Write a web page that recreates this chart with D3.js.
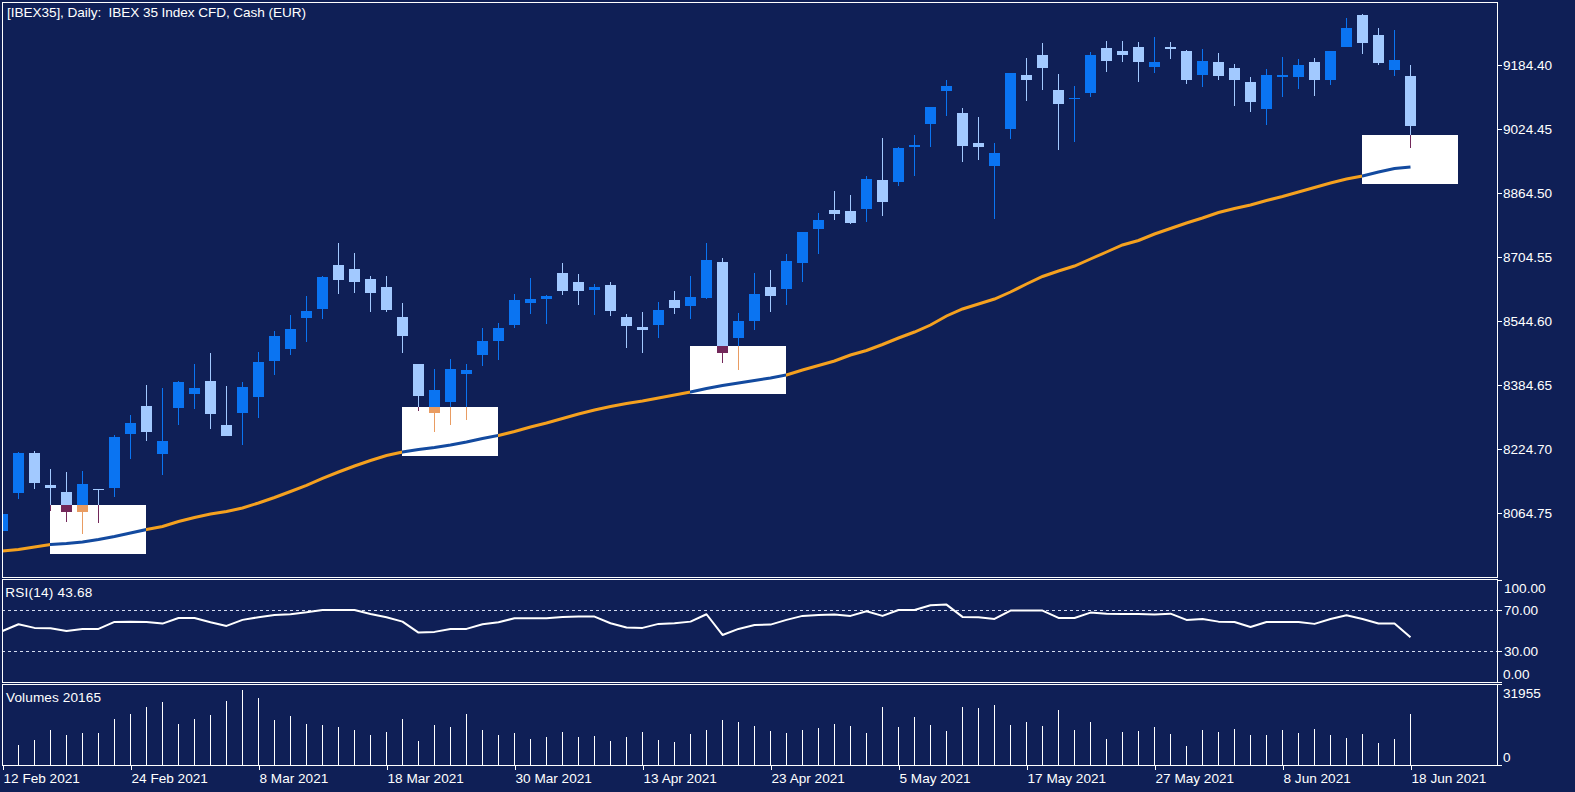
<!DOCTYPE html>
<html><head><meta charset="utf-8">
<script src="https://cdn.jsdelivr.net/npm/d3@7/dist/d3.min.js"></script>
<style>
html,body{margin:0;padding:0;background:#0f1f56;overflow:hidden}
svg{display:block}
text{font-family:"Liberation Sans",Arial,sans-serif;font-size:13.6px;fill:#fff}
.tick line{stroke:#fff;shape-rendering:crispEdges}
.tick text{fill:#fff;font-family:"Liberation Sans",Arial,sans-serif;font-size:13.6px}
</style></head><body><svg id="c" width="1575" height="792"></svg>
<script>
const open=[8020.5,8115.5,8215.5,8135.5,8118,8068,8125.5,8128,8263,8333,8213,8328,8363,8395.5,8285.5,8315.5,8355.5,8445.5,8475.5,8553,8575.5,8685.5,8675.5,8650.5,8630.5,8555.5,8438,8315.5,8343,8413,8460.5,8495.5,8535.5,8590.5,8600.5,8665.5,8643,8623,8635.5,8555.5,8530.5,8535.5,8598,8583,8603,8693,8503,8545.5,8630.5,8625.5,8690.5,8775.5,8823,8820.5,8825.5,8898,8893,8980.5,9038,9120.5,9065.5,8990.5,8933,9025.5,9160.5,9210.5,9123,9100.5,9115.5,9228,9220.5,9230.5,9180.5,9230.5,9220.5,9160.5,9193,9178,9143,9075.5,9155.5,9155.5,9193,9148,9230.5,9310.5,9260.5,9173,9158];
const high=[8063,8218,8220.5,8175.5,8168,8170.5,8125.5,8260.5,8310.5,8385.5,8378,8395.5,8438,8465.5,8383,8393,8468,8520.5,8560.5,8608,8658,8740.5,8715.5,8658,8658,8590.5,8438,8425.5,8450.5,8438,8528,8540.5,8613,8653,8610.5,8690.5,8663,8638,8643,8563,8568,8593,8620.5,8658,8740.5,8703,8565.5,8665.5,8673,8713,8768,8815.5,8870.5,8860.5,8908,9003,8980.5,9010.5,9080.5,9148,9078,9055.5,8990.5,9165.5,9203,9240.5,9163,9133,9218,9245.5,9245.5,9243,9255.5,9243,9223,9225.5,9215.5,9188,9155.5,9175.5,9205.5,9200.5,9203,9220.5,9303,9313,9278,9273,9185.5];
const low=[8018,8100.5,8125.5,8070.5,8043,8013,8040.5,8105.5,8200.5,8245.5,8160.5,8285.5,8325.5,8275.5,8258,8235.5,8303,8410.5,8460.5,8493,8550.5,8613,8615.5,8568,8568,8465.5,8320.5,8268,8285.5,8298,8433,8448,8528,8563,8538,8610.5,8585.5,8560.5,8558,8478,8465.5,8503,8563,8550.5,8600.5,8440.5,8423,8523,8568,8585.5,8643,8713,8798,8788,8793,8808,8883,8908,8980.5,9058,8943,8948,8800.5,9000.5,9095.5,9123,8973,8993,9105.5,9168,9193,9143,9165.5,9200.5,9138,9130.5,9148,9083,9068,9035.5,9105.5,9125.5,9108,9135.5,9230.5,9213,9185.5,9158,8978];
const close=[8063,8215.5,8140.5,8128,8068,8138,8123,8255.5,8290.5,8268,8245.5,8393,8378,8313,8258,8380.5,8443,8508,8525.5,8570.5,8655.5,8648,8643,8615.5,8573,8508,8358,8373,8425.5,8423,8495.5,8528,8598,8600.5,8608,8620.5,8620.5,8630.5,8570.5,8533,8523,8573,8578,8605.5,8698,8465.5,8545.5,8613,8608,8695.5,8768,8798,8813,8790.5,8900.5,8843,8978,8985.5,9080.5,9133,8983,8980.5,8965.5,9165.5,9148,9178,9088,9103,9210.5,9195.5,9210.5,9193,9193,9225.5,9148,9195.5,9158,9148,9093,9160.5,9160.5,9185.5,9148,9220.5,9278,9240.5,9190.5,9198,9033];
const movingAverage=[7970.5,7974.3,7980.5,7986.8,7989.3,7993,7999.3,8006.8,8015.5,8024.3,8031.8,8044.3,8054.3,8063,8069.3,8078,8090.5,8104.3,8119.3,8134.3,8151.8,8168,8183,8196.8,8209.3,8218,8224.3,8229.3,8235.5,8243,8251.8,8259.3,8269.3,8280.5,8290.5,8301.8,8313,8323,8331.8,8339.3,8345.5,8353,8360.5,8368,8376.8,8384.3,8390.5,8396.8,8403,8410.5,8423,8434.3,8445.5,8460.5,8471.8,8486.8,8503,8518,8535.5,8558,8575.5,8588,8600.5,8618,8638,8656.8,8670.5,8683,8700.5,8718,8735.5,8746.8,8763,8776.8,8790.5,8803,8816.8,8826.8,8835.5,8846.8,8856.8,8868,8879.3,8890.5,8900.5,8908,8918,8926.8,8930.5];
const rsi=[49.8,56.3,52.8,52.4,49.8,51.8,51.8,58.6,58.9,58.6,57,62.5,62.5,58.3,54.7,60.6,63.2,65.4,66.1,68,70.3,70.3,70.3,66.4,63.2,58.9,48.2,48.9,51.8,51.8,56.3,58.3,62.2,62.2,62.2,63.5,63.8,63.8,57.3,53.1,52.8,56.7,57.3,58.9,66.1,45.9,51.8,55.7,56,60.6,64.5,65.4,65.8,64.5,69,64.5,70.3,70.3,74.9,75.5,63.5,63.2,61.5,69.7,69.7,69.7,62.5,62.5,67.7,66.7,66.4,66.4,65.8,66.7,60.6,61.5,58.9,58.6,53.7,58.6,58.6,58.6,56.7,61.5,65.1,61.5,57,57,43.68];
const volume=[12000,7890,9860,13810,11840,12620,12620,18150,20120,22880,24850,16170,18150,19730,25250,29590,26430,17750,19330,16170,15780,14990,13810,11840,13020,18150,9470,15780,14990,20120,13810,11840,12620,10260,11050,13020,11050,11440,9470,11050,13020,9860,9070,12230,13810,17750,16960,15390,13410,12620,13810,14600,16170,15390,12620,22880,14990,18940,15780,13410,22880,22490,23670,15780,16960,15390,21700,13810,16960,10260,13020,13410,14990,12230,7500,13810,13020,14200,11840,11840,13810,12620,14200,11840,10650,12230,8680,10260,20165];
const priceTicks=[9184.40,9024.45,8864.50,8704.55,8544.60,8384.65,8224.70,8064.75];
const rsiTicks=[100,70,30,0];
const rsiLevels=[70,30];
const volumeTicks=[31955,0];
const dateTickIndex=[0,8,16,24,32,40,48,56,64,72,80,88];
const dateTickLabels=["12 Feb 2021","24 Feb 2021","8 Mar 2021","18 Mar 2021","30 Mar 2021","13 Apr 2021","23 Apr 2021","5 May 2021","17 May 2021","27 May 2021","8 Jun 2021","18 Jun 2021"];
const zoneStart=[3,25,43,85];
const zoneEnd=[9,31,49,91];
const zoneTop=[8085.5,8330.5,8483,9010.5];
const zoneBottom=[7963.75,8208,8363,8888];

const col={bg:"#0f1f56",up:"#0a74f2",down:"#a2c9ff",upIn:"#e99c62",downIn:"#72285a",ma:"#f5a11f",maIn:"#134a9f"};
const L=2,R=1497;
const svg=d3.select("#c");
svg.append("rect").attr("width",1575).attr("height",792).attr("fill",col.bg);
const x=d3.scaleLinear().domain([0,88]).range([2.5,1410.5]);
const y=d3.scaleLinear().domain([9343,7905.5]).range([2,577]);
const yR=d3.scaleLinear().domain([0,100]).range([682,579.5]);
const yV=d3.scaleLinear().domain([0,31955]).range([765,684]);
const idx=d3.range(open.length);
const defs=svg.append("defs");
defs.append("clipPath").attr("id","main").append("rect").attr("x",L).attr("y",2).attr("width",R-L).attr("height",575);
const zc=defs.append("clipPath").attr("id","zones");
zoneStart.forEach((s,k)=>zc.append("rect").attr("x",Math.floor(x(s))).attr("y",Math.round(y(zoneTop[k]))).attr("width",x(zoneEnd[k])-x(s)).attr("height",Math.round(y(zoneBottom[k]))-Math.round(y(zoneTop[k]))));

function candles(g,upC,downC){
  const s=g.selectAll("g").data(idx).join("g").attr("shape-rendering","crispEdges")
    .attr("fill",i=>close[i]>=open[i]?upC:downC);
  s.append("rect").attr("x",i=>Math.floor(x(i))).attr("width",1)
    .attr("y",i=>Math.round(y(high[i]))).attr("height",i=>Math.max(1,Math.round(y(low[i]))-Math.round(y(high[i]))));
  s.append("rect").attr("x",i=>Math.floor(x(i))-5).attr("width",11)
    .attr("y",i=>Math.round(y(Math.max(open[i],close[i]))))
    .attr("height",i=>Math.max(1,Math.round(y(Math.min(open[i],close[i])))-Math.round(y(Math.max(open[i],close[i])))));
}
const mainG=svg.append("g").attr("clip-path","url(#main)");
candles(mainG.append("g"),col.up,col.down);
const maLine=d3.line().x(i=>x(i)).y(i=>y(movingAverage[i]));
mainG.append("path").datum(idx).attr("d",maLine).attr("fill","none").attr("stroke",col.ma).attr("stroke-width",3);
mainG.append("g").attr("shape-rendering","crispEdges").selectAll("rect").data(zoneStart).join("rect")
  .attr("x",s=>Math.floor(x(s))).attr("width",(s,k)=>x(zoneEnd[k])-x(s))
  .attr("y",(s,k)=>Math.round(y(zoneTop[k]))).attr("height",(s,k)=>Math.round(y(zoneBottom[k]))-Math.round(y(zoneTop[k])))
  .attr("fill","#fff");
const inv=mainG.append("g").attr("clip-path","url(#zones)");
candles(inv.append("g"),col.upIn,col.downIn);
inv.append("path").datum(idx).attr("d",maLine).attr("fill","none").attr("stroke",col.maIn).attr("stroke-width",3);

// RSI
svg.append("g").selectAll("line").data(rsiLevels).join("line")
  .attr("x1",L).attr("x2",R).attr("y1",d=>Math.floor(yR(d))+.5).attr("y2",d=>Math.floor(yR(d))+.5)
  .attr("stroke","#d5dcf0").attr("stroke-dasharray","3,3").attr("shape-rendering","crispEdges");
svg.append("path").datum(idx).attr("d",d3.line().x(i=>x(i)).y(i=>yR(rsi[i])))
  .attr("fill","none").attr("stroke","#fff").attr("stroke-width",2).attr("stroke-linejoin","round");

// Volumes
svg.append("g").attr("shape-rendering","crispEdges").selectAll("rect").data(idx.slice(1)).join("rect")
  .attr("x",i=>Math.floor(x(i))).attr("width",1).attr("y",i=>Math.round(yV(volume[i]))).attr("height",i=>765-Math.round(yV(volume[i]))).attr("fill","#fff");

// Frames
const frames=[[2,2,577],[2,579,682],[2,684,765]];
svg.append("g").selectAll("rect").data(frames).join("rect")
  .attr("x",d=>d[0]+.5).attr("y",d=>d[1]+.5).attr("width",R-L).attr("height",d=>d[2]-d[1])
  .attr("fill","none").attr("stroke","#fff").attr("shape-rendering","crispEdges");

// Axes
const gy=svg.append("g").attr("transform",`translate(${R+1},0)`)
  .call(d3.axisRight(y).tickValues(priceTicks).tickFormat(d3.format(".2f")).tickSize(4).tickPadding(1));
const gr=svg.append("g").attr("transform",`translate(${R+1},0)`)
  .call(d3.axisRight(yR).tickValues(rsiTicks).tickFormat(d3.format(".2f")).tickSize(4).tickPadding(1));
gr.selectAll(".tick text").attr("dy",d=>d===100?"12.6":d===0?"-3.5":"0.32em").attr("y",0).attr("x",d=>d===0?5:6);
const gv=svg.append("g").attr("transform",`translate(${R+1},0)`)
  .call(d3.axisRight(yV).tickValues(volumeTicks).tickSize(4).tickPadding(1).tickFormat(d3.format("d")));
gv.selectAll(".tick text").attr("dy",d=>d===0?"-3.5":"13.5");
const gx=svg.append("g").attr("transform","translate(0,765)")
  .call(d3.axisBottom(x).tickValues(dateTickIndex).tickFormat((d,i)=>dateTickLabels[i]).tickSize(5).tickPadding(3));
gx.selectAll(".tick text").attr("text-anchor","start").attr("x",0.5).attr("y",18).attr("dy",0);
[gy,gr,gv,gx].forEach(g=>{g.select(".domain").remove();g.attr("font-family",null).attr("font-size",null);});

// Labels
svg.append("text").attr("x",7).attr("y",17).attr("textLength",299).attr("lengthAdjust","spacing").attr("xml:space","preserve").style("white-space","pre").text("[IBEX35], Daily:  IBEX 35 Index CFD, Cash (EUR)");
svg.append("text").attr("x",5.3).attr("y",597).attr("textLength",87).text("RSI(14) 43.68");
svg.append("text").attr("x",6).attr("y",702).attr("textLength",95).text("Volumes 20165");
</script></body></html>
